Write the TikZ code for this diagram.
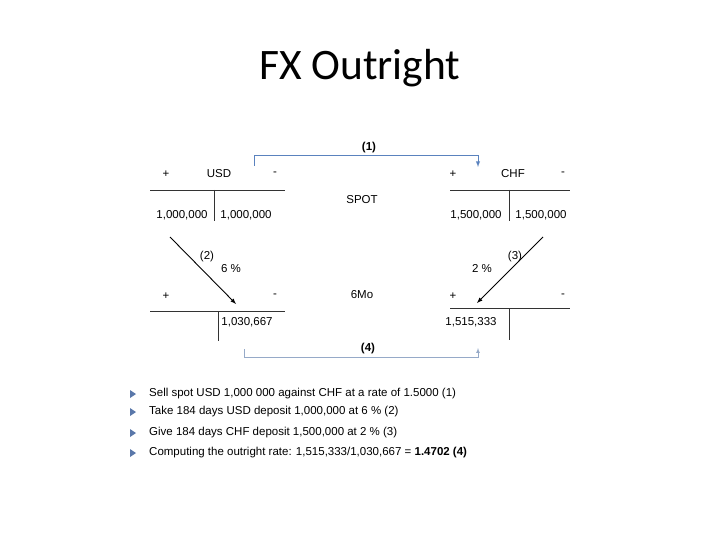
\documentclass[tikz,border=0pt]{standalone}
\usepackage{fontspec}
\setmainfont{Liberation Sans}
\newfontfamily\titlefont{Carlito}
\begin{document}
\begin{tikzpicture}[x=1pt,y=-1pt,
  lbl/.style={font=\fontsize{11.5}{13}\selectfont,inner sep=0pt},
  tline/.style={line width=0.8pt,black!80},
  blue1/.style={draw={rgb,255:red,90;green,130;blue,190},line width=0.9pt},
  blue2/.style={draw={rgb,255:red,150;green,170;blue,200},line width=0.7pt},
  arr/.style={-latex,line width=0.9pt},
  bul/.style={fill={rgb,255:red,90;green,120;blue,170},draw=none}]
\useasboundingbox (0,0) rectangle (720,540);
\node[font=\titlefont\fontsize{43.5}{48}\selectfont] (title) at (360,68) {FX Outright};
% (1)
\coordinate (a1) at (254,166);
\coordinate (a1t) at (254,155);
\coordinate (b1t) at (478,155);
\coordinate (b1) at (478,167);
\draw[blue1,-latex] (a1) -- (a1t) -- (b1t) -- (b1);
\node[lbl,font=\bfseries\fontsize{11.5}{13}\selectfont] (l1) at (369,148) {(1)};
% USD spot
\node[lbl] (p1) at (166,174) {+};
\node[lbl] (usd) at (219,174) {USD};
\node[lbl] (m1) at (275,174) {-};
\draw[tline] (150,190) -- (285,190);
\draw[tline] (214,190) -- (214,221);
\node[lbl] (u1) at (182,215) {1,000,000};
\node[lbl] (u2) at (246,215) {1,000,000};
\node[lbl] (spot) at (362,200) {SPOT};
% CHF spot
\node[lbl] (p2) at (453,174) {+};
\node[lbl] (chf) at (513,174) {CHF};
\node[lbl] (m2) at (563,174) {-};
\draw[tline] (450,190) -- (570,190);
\draw[tline] (509,190) -- (509,221);
\node[lbl] (c1) at (476,215) {1,500,000};
\node[lbl] (c2) at (541,215) {1,500,000};
% arrows
\coordinate (s2) at (170,237);
\coordinate (e2) at (236,304);
\draw[arr] (s2) -- (e2);
\node[lbl] (l2) at (207,257) {(2)};
\node[lbl] (r2) at (231,269) {6 \%};
\coordinate (s3) at (543,237);
\coordinate (e3) at (477,303);
\draw[arr] (s3) -- (e3);
\node[lbl] (l3) at (515,257) {(3)};
\node[lbl] (r3) at (482,269) {2 \%};
\node[lbl] (mo) at (362,295) {6Mo};
% lower USD
\node[lbl] (p3) at (166,296) {+};
\node[lbl] (m3) at (275,296) {-};
\draw[tline] (150,311) -- (285,311);
\draw[tline] (218,311) -- (218,341);
\node[lbl] (u3) at (247,322) {1,030,667};
% lower CHF
\node[lbl] (p4) at (453,296) {+};
\node[lbl] (m4) at (563,296) {-};
\draw[tline] (450,308) -- (570,308);
\draw[tline] (509,308) -- (509,340);
\node[lbl] (c3) at (471,322) {1,515,333};
% (4)
\coordinate (a4) at (244,349);
\coordinate (a4b) at (244,357);
\coordinate (b4b) at (478,357);
\coordinate (b4) at (478,348);
\draw[blue2,-latex] (a4) -- (a4b) -- (b4b) -- (b4);
\node[lbl,font=\bfseries\fontsize{11.5}{13}\selectfont] (l4) at (368,349) {(4)};
% bullets
\foreach \y/\t [count=\i] in {394/{Sell spot USD 1,000 000 against CHF at a rate of 1.5000 (1)},
  412/{Take 184 days USD deposit 1,000,000 at 6 \% (2)},
  433/{Give 184 days CHF deposit 1,500,000 at 2 \% (3)},
  453/{Computing the outright rate: 1,515,333/1,030,667 = \textbf{1.4702 (4)}}}{
  \fill[bul] (130,\y-4) -- (136,\y) -- (130,\y+4) -- cycle;
  \node[lbl,anchor=west] (b\i) at (149,\y) {\t};
}
\end{tikzpicture}
\end{document}
